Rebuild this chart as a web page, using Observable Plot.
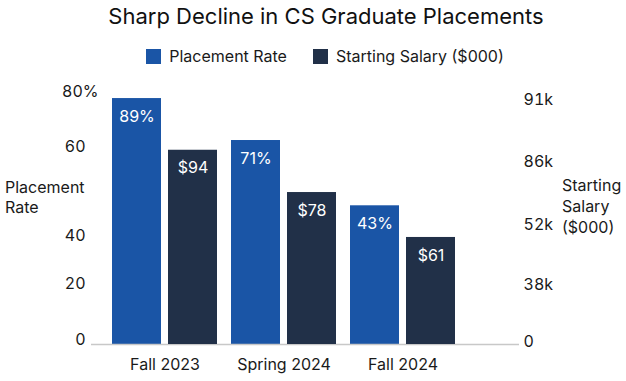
<!DOCTYPE html>
<html>
<head>
<meta charset="utf-8">
<script src="https://cdn.jsdelivr.net/npm/d3@7"></script>
<script src="https://cdn.jsdelivr.net/npm/@observablehq/plot@0.6"></script>
<style>
  body { margin: 0; background: #fff; font-family: Inter, "Noto Sans", sans-serif; color: #1a1a1a; }
  #wrap { position: relative; width: 626px; height: 381px; overflow: hidden; background: #fff; }
  #title { position: absolute; left: 0; top: 1px; width: 626px; padding-left: 26px; box-sizing: border-box;
           text-align: center; font-size: 22px; line-height: 30px; color: #111; white-space: nowrap; }
  #legend { position: absolute; left: 0; top: 46px; width: 626px; padding-left: 24px; box-sizing: border-box;
            display: flex; justify-content: center; align-items: center; font-size: 16px; line-height: 20px; color: #1a1a1a; }
  .item { display: flex; align-items: center; }
  .item + .item { margin-left: 26px; }
  .sw { width: 15px; height: 15px; margin-right: 8px; }
  .axtitle { position: absolute; font-size: 16px; color: #1a1a1a; }
  #lt { left: 5px; top: 177px; line-height: 20px; }
  #rt { left: 562px; top: 175px; line-height: 21px; }
  .layer { position: absolute; left: 0; top: 0; }
</style>
</head>
<body>
<div id="wrap">
  <div id="title">Sharp Decline in CS Graduate Placements</div>
  <div id="legend"></div>
  <div class="layer" id="p1"></div>
  <div class="layer" id="p2"></div>
  <div class="axtitle" id="lt">Placement<br>Rate</div>
  <div class="axtitle" id="rt">Starting<br>Salary<br>($000)</div>
</div>
<script>
const categories = ["Fall 2023", "Spring 2024", "Fall 2024"];
const placementRate = [89, 71, 43];
const startingSalary = [94, 78, 61];
const rateLabels = ["89%", "71%", "43%"];
const salaryLabels = ["$94", "$78", "$61"];
const seriesNames = ["Placement Rate", "Starting Salary ($000)"];
const seriesColors = ["#1a55a6", "#213048"];
const leftTickLabels = ["0", "20", "40", "60", "80%"];
const leftTickAt = [-14.7, 9.5, 30.3, 68.4, 91.8];
const rightTickLabels = ["0", "38k", "52k", "86k", "91k"];
const rightTickAt = [21.6, 43.2, 65.9, 89.7, 113.2];
const rateDomain = [-16.5, 94.6];
const salaryDomain = [20.5, 118.5];

// legend
const legend = document.getElementById("legend");
seriesNames.forEach((name, i) => {
  const it = document.createElement("div");
  it.className = "item";
  it.innerHTML = `<div class="sw" style="background:${seriesColors[i]}"></div><span>${name}</span>`;
  legend.appendChild(it);
});

const rateData = categories.map((c, i) => ({category: c, value: placementRate[i], label: rateLabels[i]}));
const salaryData = categories.map((c, i) => ({category: c, value: startingSalary[i], label: salaryLabels[i]}));

const common = {
  width: 626,
  height: 381,
  marginLeft: 91,
  marginRight: 107,
  marginTop: 85,
  marginBottom: 37,
  style: {fontFamily: "Inter, 'Noto Sans', sans-serif", fontSize: "16px", background: "transparent", color: "#1a1a1a"},
  x: {type: "band", domain: categories, paddingInner: 14 / 120, paddingOuter: 0.3417, align: 0.244}
};

const p1 = Plot.plot({
  ...common,
  y: {domain: rateDomain},
  marks: [
    Plot.barY(rateData, {x: "category", y1: rateDomain[0], y2: "value", fill: seriesColors[0], insetRight: 56}),
    Plot.text(rateData, {x: "category", y: "value", text: "label", dx: -28, dy: 18, fill: "white", fontSize: 16}),
    Plot.ruleY([rateDomain[0]], {stroke: "#c8c8c8", strokeWidth: 1.5}),
    Plot.axisX({anchor: "bottom", tickSize: 0, tickPadding: 14, label: null, fontSize: 16}),
    Plot.axisY({anchor: "left", ticks: leftTickAt.slice(0, 4), tickSize: 0, tickPadding: 6, label: null, fontSize: 16,
      tickFormat: d => leftTickLabels[leftTickAt.indexOf(d)]}),
    Plot.axisY({anchor: "left", ticks: leftTickAt.slice(4), tickSize: 0, tickPadding: 6, dx: 13, label: null, fontSize: 16,
      tickFormat: d => leftTickLabels[leftTickAt.indexOf(d)]})
  ]
});
document.getElementById("p1").appendChild(p1);

const p2 = Plot.plot({
  ...common,
  y: {domain: salaryDomain},
  marks: [
    Plot.barY(salaryData, {x: "category", y1: salaryDomain[0], y2: "value", fill: seriesColors[1], insetLeft: 56}),
    Plot.text(salaryData, {x: "category", y: "value", text: "label", dx: 28, dy: 18, fill: "white", fontSize: 16}),
    Plot.axisX({anchor: "bottom", ticks: [], label: null}),
    Plot.axisY({anchor: "right", ticks: rightTickAt, tickSize: 0, tickPadding: 4, label: null, fontSize: 16,
      tickFormat: d => rightTickLabels[rightTickAt.indexOf(d)]})
  ]
});
document.getElementById("p2").appendChild(p2);
</script>
</body>
</html>
